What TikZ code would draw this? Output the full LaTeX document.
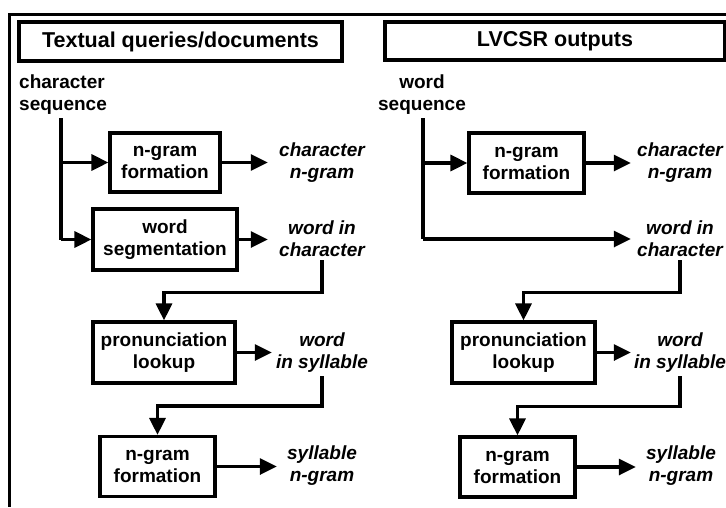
\documentclass[tikz,border=0pt]{standalone}
\usepackage{fontspec}
\setmainfont{Liberation Sans}
\usetikzlibrary{arrows.meta,calc}

\tikzset{
  every node/.style={font=\bfseries\fontsize{19}{22}\selectfont},
  box/.style={draw, line width=3.2pt, inner sep=0pt, align=center},
  titlebox/.style={draw, line width=3.2pt, inner sep=0pt, align=center,
    font=\bfseries\fontsize{21.5}{24}\selectfont},
  outlbl/.style={align=center, inner xsep=0pt, inner ysep=3pt,
    font=\bfseries\itshape\fontsize{19}{22}\selectfont},
  srclbl/.style={align=center, inner sep=0pt},
  arr/.style={line width=3.2pt, -{Triangle[length=17pt,width=16pt]}},
  wire/.style={line width=3.2pt},
}

\begin{document}
\begin{tikzpicture}[x=1pt,y=-1pt]
\useasboundingbox (0,0) rectangle (726,507);

% outer frame (top and left sides)
\draw[line width=3pt] (726,14) -- (9,14) -- (9,507);

% ---------- left column: textual queries/documents ----------
\node[titlebox, minimum width=323, minimum height=39] (t1) at (180.5,41.5) {Textual queries/documents};
\node[srclbl, anchor=west, align=left] (s1) at (19,95) {character\\sequence};
\coordinate (s1foot) at (61,118);

\node[box, minimum width=110, minimum height=59] (a1) at (165,162.5) {n-gram\\formation};
\node[box, minimum width=144, minimum height=61] (a2) at (165,239.5) {word\\segmentation};
\node[box, minimum width=142, minimum height=61] (a3) at (164,352.5) {pronunciation\\lookup};
\node[box, minimum width=115, minimum height=60] (a4) at (157.5,466.5) {n-gram\\formation};

\node[outlbl, minimum width=108] (p1) at (322,163) {character\\n-gram};
\node[outlbl, minimum width=108] (p2) at (322,239) {word in\\character};
\node[outlbl, minimum width=100] (p3) at (322,353) {word\\in syllable};
\node[outlbl, minimum width=90]  (p4) at (322,466) {syllable\\n-gram};

\draw[wire] (s1foot) -- (s1foot |- a2.west);
\draw[arr] (s1foot |- a1.west) -- (a1.west);
\draw[arr] (s1foot |- a2.west) -- (a2.west);

\draw[arr] (a1.east) -- (a1.east -| p1.west);
\draw[arr] (a2.east) -- (a2.east -| p2.west);
\draw[arr] (a3.east) -- (a3.east -| p3.west);
\draw[arr] (a4.east) -- (a4.east -| p4.west);

\draw[arr] (p2.south) |- ($(a3.north)+(0,-28)$) -- (a3.north);
\draw[arr] (p3.south) |- ($(a4.north)+(0,-29)$) -- (a4.north);

% ---------- right column: LVCSR outputs ----------
\node[titlebox, minimum width=340, minimum height=38] (t2) at (555,41) {LVCSR outputs};
\node[srclbl] (s2) at (422,95) {word\\sequence};
\coordinate (s2foot) at (423,118);

\node[box, minimum width=115, minimum height=60] (b1) at (526.5,163) {n-gram\\formation};
\node[box, minimum width=143, minimum height=61] (b3) at (523.5,352.5) {pronunciation\\lookup};
\node[box, minimum width=115, minimum height=60] (b4) at (517.5,467) {n-gram\\formation};

\node[outlbl, minimum width=98] (q1) at (680,163) {character\\n-gram};
\node[outlbl, minimum width=98] (q2) at (680,239) {word in\\character};
\node[outlbl, minimum width=98] (q3) at (680,353) {word\\in syllable};
\node[outlbl, minimum width=90] (q4) at (681,466) {syllable\\n-gram};

\draw[wire] (s2foot) -- (s2foot |- q2.west);
\draw[arr] (s2foot |- b1.west) -- (b1.west);
\draw[arr] (s2foot |- q2.west) -- (q2.west);

\draw[arr] (b1.east) -- (b1.east -| q1.west);
\draw[arr] (b3.east) -- (b3.east -| q3.west);
\draw[arr] (b4.east) -- (b4.east -| q4.west);

\draw[arr] (q2.south) |- ($(b3.north)+(0,-28)$) -- (b3.north);
\draw[arr] (q3.south) |- ($(b4.north)+(0,-29)$) -- (b4.north);
\end{tikzpicture}
\end{document}
